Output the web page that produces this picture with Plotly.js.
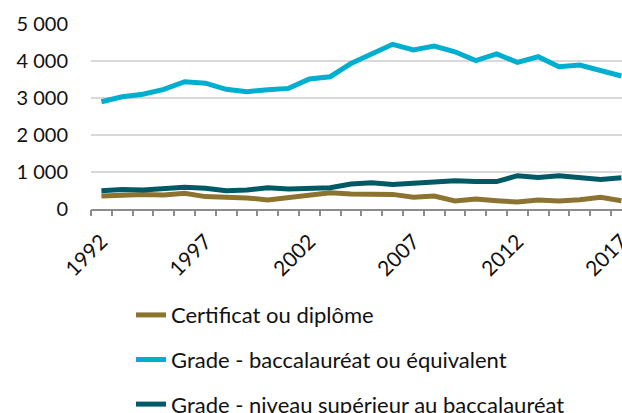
<!DOCTYPE html>
<html>
<head>
<meta charset="utf-8">
<script src="https://cdn.plot.ly/plotly-3.0.1.min.js"></script>
<style>
  html, body { margin: 0; padding: 0; background: #fff; }
  #chart { width: 622px; height: 413px; }
</style>
</head>
<body>
<div id="chart"></div>
<script>
// years on the category axis
var years = [1992, 1993, 1994, 1995, 1996, 1997, 1998, 1999, 2000, 2001, 2002, 2003, 2004,
             2005, 2006, 2007, 2008, 2009, 2010, 2011, 2012, 2013, 2014, 2015, 2016, 2017];

// values
var certificat = [350, 380, 395, 380, 425, 335, 315, 300, 245, 315, 360, 440, 405,
                  405, 395, 315, 350, 215, 270, 225, 190, 245, 215, 250, 315, 225];
var baccalaureat = [2900, 3035, 3100, 3235, 3440, 3400, 3235, 3170, 3225, 3260, 3515, 3575, 3935,
                    4180, 4450, 4300, 4405, 4250, 4010, 4190, 3965, 4115, 3845, 3890, 3740, 3595];
var superieur = [495, 530, 515, 560, 585, 560, 495, 515, 575, 540, 560, 575, 675,
                 710, 665, 695, 720, 765, 740, 740, 900, 855, 900, 855, 800, 845];

var names = ["Certificat ou diplôme",
             "Grade - baccalauréat ou équivalent",
             "Grade - niveau supérieur au baccalauréat"];
var colors = ["#8c7430", "#00afd0", "#005a66"];

var xTickVals = [1992, 1997, 2002, 2007, 2012, 2017];
var xTickText = ["1992", "1997", "2002", "2007", "2012", "2017"];
var yTickVals = [0, 1000, 2000, 3000, 4000, 5000];
var yTickText = ["0", "1 000", "2 000", "3 000", "4 000", "5 000"];

var series = [certificat, baccalaureat, superieur];
var data = [];
for (var i = 0; i < series.length; i++) {
  data.push({
    x: years,
    y: series[i],
    type: "scatter",
    mode: "lines",
    name: names[i],
    legendgroup: "g" + i,
    line: {color: colors[i], width: 5}
  });
}

// empty trace only to carry the category boundary tick marks
data.push({
  x: [years[0]], y: [0], xaxis: "x2", type: "scatter", mode: "lines",
  showlegend: false, hoverinfo: "skip", line: {color: "rgba(0,0,0,0)"}
});

var xr = [1991.5, 2017.03];
var fam = "Lato, 'Open Sans', sans-serif";
var tickFont = {family: fam, size: 20, color: "#111"};
var legFont = {family: fam, size: 22, color: "#111"};

var layout = {
  width: 622,
  height: 413,
  margin: {l: 91, r: 0, t: 24, b: 204, autoexpand: false},
  paper_bgcolor: "#fff",
  plot_bgcolor: "#fff",
  font: tickFont,
  showlegend: true,
  legend: {
    x: (131 - 91) / 531, xanchor: "left",
    y: -0.46, yanchor: "top",
    orientation: "v",
    tracegroupgap: 13,
    font: legFont,
    bgcolor: "rgba(0,0,0,0)"
  },
  xaxis: {
    range: xr,
    automargin: false,
    tickvals: xTickVals,
    ticktext: xTickText,
    tickangle: -45,
    ticks: "",
    ticklabelstandoff: 10,
    ticklabeloverflow: "allow",
    showgrid: false,
    zeroline: false,
    showline: true,
    linecolor: "#8c8c8c",
    linewidth: 2,
    tickfont: {family: fam, size: 21, color: "#111"}
  },
  xaxis2: {
    overlaying: "x",
    anchor: "y",
    side: "bottom",
    automargin: false,
    range: xr,
    tick0: 1991.5,
    dtick: 1,
    ticks: "outside",
    ticklen: 6,
    tickwidth: 2,
    tickcolor: "#8c8c8c",
    showticklabels: false,
    showgrid: false,
    zeroline: false
  },
  yaxis: {
    range: [0, 5000],
    automargin: false,
    tickvals: yTickVals,
    ticktext: yTickText,
    showgrid: true,
    gridcolor: "#d9d9d9",
    gridwidth: 1.5,
    zeroline: false,
    showline: false,
    ticks: "",
    ticklabelstandoff: 22,
    tickfont: tickFont
  }
};

Plotly.newPlot("chart", data, layout, {displayModeBar: false, staticPlot: true});
</script>
</body>
</html>
